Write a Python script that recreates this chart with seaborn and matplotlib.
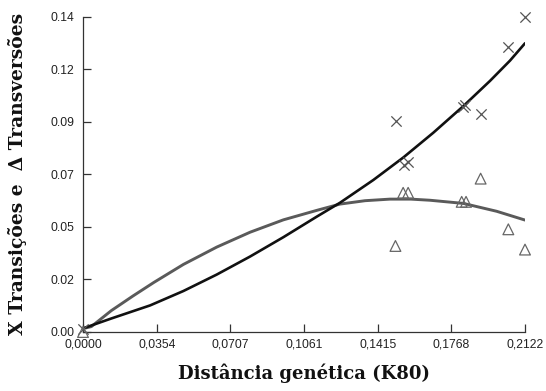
import matplotlib
matplotlib.use("Agg")
import matplotlib.pyplot as plt
import seaborn as sns
import pandas as pd
from matplotlib.ticker import FixedLocator, FixedFormatter

ts_x = [0.0, 0.2122, 0.2042, 0.1502, 0.1822, 0.1834, 0.1909, 0.1541, 0.1558]
ts_y = [0.0015, 0.1397, 0.1264, 0.0936, 0.1000, 0.1010, 0.0967, 0.0741, 0.0756]
tv_x = [0.0, 0.1537, 0.1561, 0.1909, 0.1818, 0.1839, 0.2042, 0.2122, 0.1500]
tv_y = [0.0, 0.0618, 0.0618, 0.0681, 0.0578, 0.0578, 0.0456, 0.0366, 0.0382]

# Fitted curves
ts_curve_x = [0.0, 0.0136, 0.0322, 0.0482, 0.0642, 0.0802, 0.0962, 0.1122, 0.1234,
              0.1394, 0.1538, 0.1682, 0.1826, 0.1954, 0.2050, 0.2122]
ts_curve_y = [0.0016, 0.0060, 0.0118, 0.0182, 0.0255, 0.0335, 0.0421, 0.0512, 0.0574,
              0.0675, 0.0775, 0.0885, 0.1003, 0.1115, 0.1205, 0.1282]
tv_curve_x = [0.0, 0.0040, 0.0136, 0.0240, 0.0340, 0.0482, 0.0642, 0.0802, 0.0962,
              0.1122, 0.1234, 0.1354, 0.1474, 0.1574, 0.1666, 0.1826, 0.1986, 0.2122]
tv_curve_y = [0.0015, 0.0024, 0.0095, 0.0160, 0.0220, 0.0300, 0.0377, 0.0443, 0.0498,
              0.0540, 0.0568, 0.0583, 0.0590, 0.0590, 0.0585, 0.0571, 0.0536, 0.0497]

x_ticks = [0.0, 0.0354, 0.0707, 0.1061, 0.1415, 0.1768, 0.2122]
x_tick_labels = ["0,0000", "0,0354", "0,0707", "0,1061", "0,1415", "0,1768", "0,2122"]
y_ticks = [0.0, 0.14 / 6, 0.28 / 6, 0.42 / 6, 0.56 / 6, 0.70 / 6, 0.14]
y_tick_labels = ["0.00", "0.02", "0.05", "0.07", "0.09", "0.12", "0.14"]

sns.set_style("white")
plt.rcParams["font.family"] = ["Liberation Sans", "DejaVu Sans"]

fig = plt.figure(figsize=(5.46, 3.91), dpi=100)
ax = fig.add_axes([83 / 546, 1 - 332 / 391, (525 - 83) / 546, (332 - 16.7) / 391])

ts_df = pd.DataFrame({"x": ts_curve_x, "y": ts_curve_y})
tv_df = pd.DataFrame({"x": tv_curve_x, "y": tv_curve_y})
sns.lineplot(data=tv_df, x="x", y="y", ax=ax, color="#5a5a5a", linewidth=2.1,
             sort=False, estimator=None)
sns.lineplot(data=ts_df, x="x", y="y", ax=ax, color="#111111", linewidth=1.9,
             sort=False, estimator=None)

pts_ts = pd.DataFrame({"x": ts_x, "y": ts_y})
pts_tv = pd.DataFrame({"x": tv_x, "y": tv_y})
sns.scatterplot(data=pts_ts, x="x", y="y", ax=ax, marker="x", s=55,
                color="#555555", linewidth=0.9, zorder=3, clip_on=False)
sns.scatterplot(data=pts_tv, x="x", y="y", ax=ax, marker="^", s=60,
                facecolor="none", edgecolor="#666666", linewidth=0.9, zorder=3,
                clip_on=False)

ax.set_xlim(0, 0.2122)
ax.set_ylim(0, 0.14)
ax.xaxis.set_major_locator(FixedLocator(x_ticks))
ax.xaxis.set_major_formatter(FixedFormatter(x_tick_labels))
ax.yaxis.set_major_locator(FixedLocator(y_ticks))
ax.yaxis.set_major_formatter(FixedFormatter(y_tick_labels))
ax.tick_params(axis="both", direction="in", length=6, width=0.9, colors="#333333",
               labelsize=8.7, labelcolor="#222222")
ax.tick_params(axis="x", pad=5, bottom=True)
ax.tick_params(axis="y", pad=6, left=True)

for s in ["top", "right"]:
    ax.spines[s].set_visible(False)
for s in ["left", "bottom"]:
    ax.spines[s].set_color("#333333")
    ax.spines[s].set_linewidth(0.9)

ax.set_xlabel("Distância genética (K80)", family=["DejaVu Serif"], fontweight="bold",
              fontsize=13, color="#111111", labelpad=9)
ax.set_ylabel("X Transições e  Δ Transversões", family=["DejaVu Serif"], fontweight="bold",
              fontsize=13.5, color="#111111", labelpad=17)
ax.patch.set_alpha(0)

fig.savefig("out.png", dpi=100)
